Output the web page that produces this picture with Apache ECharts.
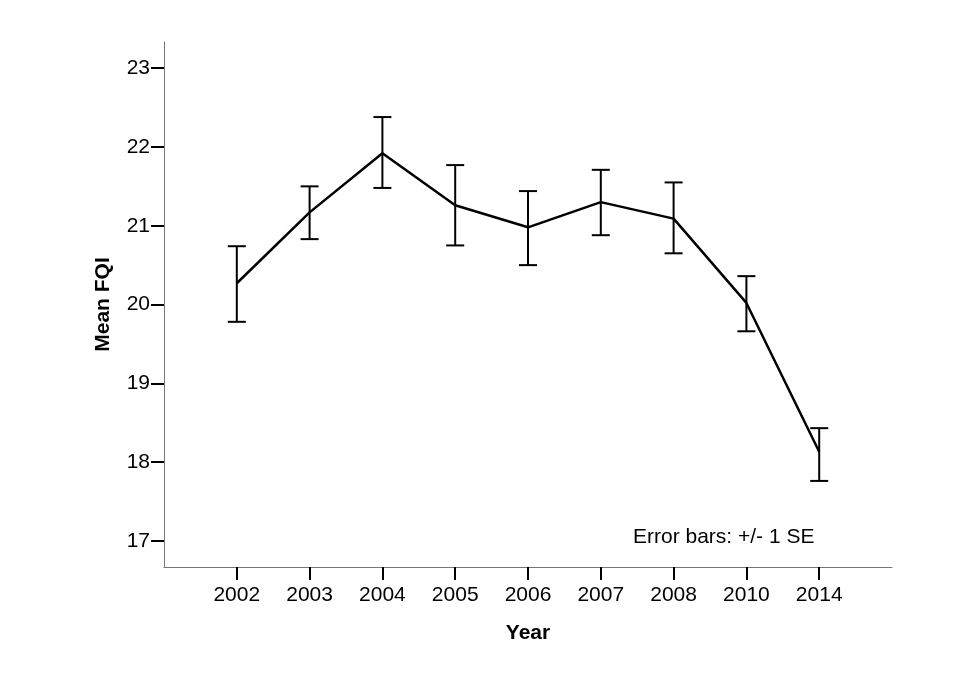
<!DOCTYPE html>
<html>
<head>
<meta charset="utf-8">
<script src="https://cdn.jsdelivr.net/npm/echarts@6/dist/echarts.min.js"></script>
<style>
  html, body { margin: 0; padding: 0; background: #fff; }
  #main { width: 960px; height: 693px; }
</style>
</head>
<body>
<div id="main"></div>
<script>
// years (blank slots at both ends leave the SPSS-style padding)
var years = ['', '2002', '2003', '2004', '2005', '2006', '2007', '2008', '2010', '2014', ''];
var meanFQI = [null, 20.27, 21.17, 21.92, 21.26, 20.98, 21.30, 21.09, 20.02, 18.13, null];
var upperSE = [null, 20.74, 21.50, 22.38, 21.77, 21.44, 21.71, 21.55, 20.36, 18.43, null];
var lowerSE = [null, 19.78, 20.83, 21.48, 20.75, 20.50, 20.88, 20.65, 19.66, 17.76, null];
var yTicks = [17, 18, 19, 20, 21, 22, 23];

var errData = [];
for (var i = 0; i < years.length; i++) {
  if (meanFQI[i] != null) errData.push([i, lowerSE[i], upperSE[i]]);
}

var myChart = echarts.init(document.getElementById('main'));

var option = {
  backgroundColor: '#fff',
  animation: false,
  grid: { left: 164, right: 68, top: 42, bottom: 126 },
  xAxis: {
    type: 'category',
    data: years,
    boundaryGap: false,
    name: 'Year',
    nameLocation: 'middle',
    nameGap: 56,
    nameTextStyle: { fontFamily: 'Liberation Sans', fontSize: 21, fontWeight: 'bold', color: '#000' },
    axisLine: { lineStyle: { color: '#777', width: 1 } },
    axisTick: {
      length: 13,
      lineStyle: { color: '#000', width: 2 },
      interval: function (idx, val) { return val !== ''; }
    },
    axisLabel: {
      margin: 18,
      fontFamily: 'Liberation Sans', fontSize: 21, color: '#000',
      interval: 0
    },
    splitLine: { show: false }
  },
  yAxis: {
    type: 'value',
    min: 16.667,
    max: 23.333,
    name: 'Mean FQI',
    nameLocation: 'middle',
    nameGap: 50,
    nameTextStyle: { fontFamily: 'Liberation Sans', fontSize: 21, fontWeight: 'bold', color: '#000' },
    axisLine: { show: true, lineStyle: { color: '#777', width: 1 } },
    axisTick: { show: true, length: 13, customValues: yTicks, lineStyle: { color: '#000', width: 2 } },
    axisLabel: {
      margin: 14, customValues: yTicks,
      fontFamily: 'Liberation Sans', fontSize: 21, color: '#000'
    },
    splitLine: { show: false }
  },
  graphic: [{
    type: 'text',
    left: 633,
    top: 527,
    style: { text: 'Error bars: +/- 1 SE', font: '21px "Liberation Sans"', fill: '#000' }
  }],
  series: [
    {
      name: 'Mean FQI',
      type: 'line',
      data: meanFQI,
      showSymbol: false,
      connectNulls: false,
      lineStyle: { color: '#000', width: 2.5 },
      z: 3
    },
    {
      name: 'SE',
      type: 'custom',
      data: errData,
      z: 4,
      renderItem: function (params, api) {
        var top = api.coord([api.value(0), api.value(2)]);
        var bot = api.coord([api.value(0), api.value(1)]);
        var hw = 9;
        var st = { stroke: '#000', lineWidth: 2, fill: null };
        return {
          type: 'group',
          children: [
            { type: 'line', shape: { x1: top[0], y1: top[1], x2: bot[0], y2: bot[1] }, style: st },
            { type: 'line', shape: { x1: top[0] - hw, y1: top[1], x2: top[0] + hw, y2: top[1] }, style: st },
            { type: 'line', shape: { x1: bot[0] - hw, y1: bot[1], x2: bot[0] + hw, y2: bot[1] }, style: st }
          ]
        };
      }
    }
  ]
};

myChart.setOption(option);
</script>
</body>
</html>
